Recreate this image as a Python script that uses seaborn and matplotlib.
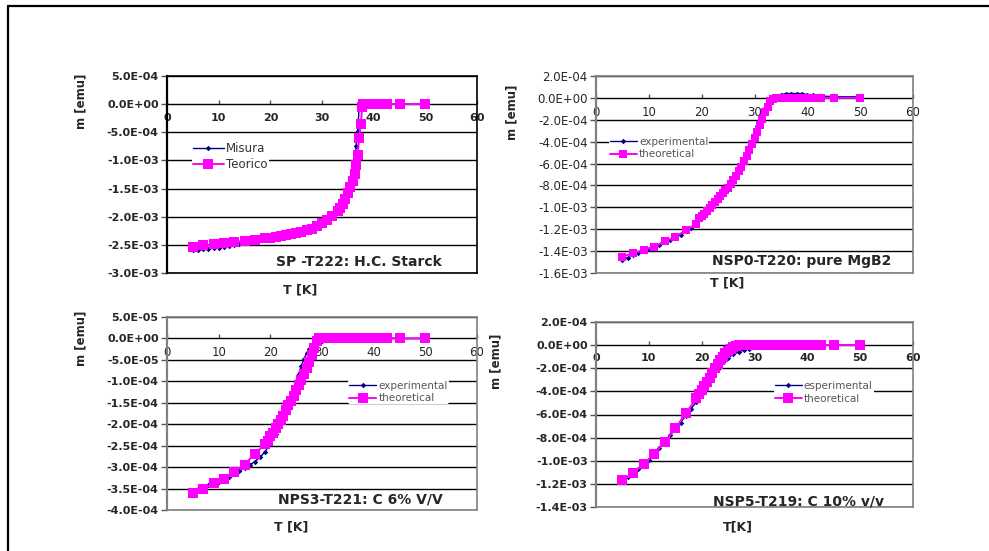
import numpy as np
import matplotlib
matplotlib.use("Agg")
import matplotlib.pyplot as plt
from matplotlib.lines import Line2D
import seaborn as sns

sns.set_style("white")
plt.rcParams["font.family"] = ["DejaVu Sans"]

NAVY = "#000080"
MAGENTA = "#FF00FF"

# ---------------- SP-T222: H.C. Starck (m in 1e-3 emu) ----------------
t_sp_exp = [5, 6, 7, 8, 9, 10, 11, 12, 13, 14, 15, 16, 17, 18, 19, 20, 21, 22, 23, 24,
            25, 26, 27, 28, 29, 30, 31, 32, 33, 34, 35, 35.5, 36, 36.3, 36.6, 36.9,
            37.2, 37.5, 38, 39, 40, 41, 42, 45, 50]
m_sp_exp = [-2.60, -2.59, -2.58, -2.57, -2.56, -2.55, -2.53, -2.52, -2.50, -2.49, -2.47,
            -2.46, -2.44, -2.42, -2.40, -2.38, -2.37, -2.35, -2.33, -2.31, -2.29, -2.27,
            -2.24, -2.21, -2.17, -2.12, -2.06, -1.98, -1.88, -1.74, -1.52, -1.36, -1.18,
            -1.02, -0.75, -0.48, -0.05, 0.0, 0.0, 0.0, 0.0, 0.0, 0.0, 0.0, 0.0]
t_sp_th = [5, 7, 9, 11, 13, 15, 17, 19, 20, 21, 22, 23, 24, 25, 26, 27, 28, 29, 30, 31,
           32, 33, 33.5, 34, 34.5, 35, 35.5, 36, 36.3, 36.6, 36.9, 37.2, 37.5, 37.8, 38,
           38.5, 39, 39.5, 40, 40.5, 41, 41.5, 42, 42.5, 45, 50]
m_sp_th = [-2.53, -2.51, -2.49, -2.47, -2.45, -2.43, -2.41, -2.38, -2.37, -2.36, -2.34,
           -2.33, -2.31, -2.29, -2.27, -2.24, -2.21, -2.17, -2.12, -2.06, -1.99, -1.90,
           -1.84, -1.77, -1.68, -1.58, -1.47, -1.36, -1.24, -1.08, -0.90, -0.60, -0.35,
           -0.05, 0.0, 0.0, 0.0, 0.0, 0.0, 0.0, 0.0, 0.0, 0.0, 0.0, 0.0, 0.0]

# ---------------- NSP0-T220: pure MgB2 (m in 1e-3 emu) ----------------
t_p0_exp = [5, 6, 7, 8, 9, 10, 11, 12, 13, 14, 15, 16, 17, 18, 19, 20, 21, 22, 23, 24,
            25, 26, 27, 28, 29, 30, 30.5, 31, 31.5, 32, 32.5, 33, 33.5, 34, 35, 36, 37,
            38, 39, 40, 41, 42, 45, 50]
m_p0_exp = [-1.48, -1.46, -1.44, -1.42, -1.40, -1.38, -1.36, -1.34, -1.32, -1.30, -1.28,
            -1.25, -1.22, -1.19, -1.15, -1.10, -1.05, -0.99, -0.93, -0.87, -0.80, -0.73,
            -0.64, -0.55, -0.44, -0.32, -0.26, -0.20, -0.14, -0.09, -0.05, -0.02, 0.0,
            0.01, 0.03, 0.04, 0.04, 0.04, 0.04, 0.03, 0.03, 0.02, 0.01, 0.01]
t_p0_th = [5, 7, 9, 11, 13, 15, 17, 19, 19.5, 20, 20.5, 21, 21.5, 22, 22.5, 23, 23.5, 24,
           24.5, 25, 25.5, 26, 26.5, 27, 27.5, 28, 28.5, 29, 29.5, 30, 30.5, 31, 31.5, 32,
           32.5, 33, 33.5, 34, 35, 36, 37, 38, 39, 40, 41, 42, 42.5, 45, 50]
m_p0_th = [-1.45, -1.42, -1.39, -1.36, -1.31, -1.27, -1.21, -1.15, -1.10, -1.08, -1.06,
           -1.03, -1.01, -0.98, -0.95, -0.92, -0.90, -0.87, -0.84, -0.82, -0.79, -0.75,
           -0.71, -0.67, -0.63, -0.58, -0.53, -0.48, -0.42, -0.37, -0.31, -0.25, -0.19,
           -0.13, -0.08, -0.03, -0.01, 0.0, 0.0, 0.0, 0.0, 0.0, 0.0, 0.0, 0.0, 0.0, 0.0,
           0.0, 0.0]

# ---------------- NPS3-T221: C 6% V/V (m in 1e-4 emu) ----------------
t_p3_exp = [5, 6, 7, 8, 9, 10, 11, 12, 13, 14, 15, 16, 17, 18, 19, 20, 21, 22, 23, 24,
            25, 25.5, 26, 26.5, 27, 27.5, 28, 28.5, 29, 29.5, 30, 31, 32, 33, 34, 35, 36,
            37, 38, 39, 40, 41, 42, 45, 50]
m_p3_exp = [-3.53, -3.50, -3.46, -3.42, -3.38, -3.34, -3.29, -3.24, -3.17, -3.10, -3.02,
            -2.95, -2.87, -2.77, -2.64, -2.45, -2.23, -1.97, -1.68, -1.35, -1.00, -0.82,
            -0.64, -0.48, -0.35, -0.25, -0.18, -0.12, -0.09, -0.07, -0.05, -0.03, -0.01,
            0.02, 0.05, 0.08, 0.07, 0.05, 0.04, 0.03, 0.02, 0.01, 0.01, 0.0, 0.0]
t_p3_th = [5, 7, 9, 11, 13, 15, 17, 19, 19.5, 20, 20.5, 21, 21.5, 22, 22.5, 23, 23.5, 24,
           24.5, 25, 25.5, 26, 26.5, 27, 27.5, 28, 28.5, 29, 29.5, 30, 31, 32, 33, 34, 35,
           36, 37, 38, 39, 40, 41, 42, 42.5, 45, 50]
m_p3_th = [-3.60, -3.50, -3.38, -3.27, -3.11, -2.94, -2.69, -2.46, -2.38, -2.28, -2.20,
           -2.08, -2.00, -1.90, -1.80, -1.68, -1.56, -1.45, -1.34, -1.20, -1.08, -0.96,
           -0.82, -0.68, -0.54, -0.38, -0.22, -0.07, 0.0, 0.0, 0.0, 0.0, 0.0, 0.0, 0.0,
           0.0, 0.0, 0.0, 0.0, 0.0, 0.0, 0.0, 0.0, 0.0, 0.0]

# ---------------- NSP5-T219: C 10% v/v (m in 1e-3 emu) ----------------
t_p5_exp = [5, 6, 7, 8, 9, 10, 11, 12, 13, 14, 15, 16, 17, 18, 19, 20, 21, 22, 23, 24,
            25, 26, 27, 28, 29, 30, 31, 32, 33, 34, 35, 36, 37, 38, 39, 40, 41, 42, 45, 50]
m_p5_exp = [-1.17, -1.14, -1.11, -1.07, -1.03, -0.99, -0.94, -0.89, -0.84, -0.78, -0.73,
            -0.67, -0.61, -0.55, -0.49, -0.42, -0.35, -0.28, -0.21, -0.15, -0.11, -0.08,
            -0.06, -0.04, -0.03, -0.02, -0.01, -0.005, 0.0, 0.0, 0.0, 0.0, 0.0, 0.0, 0.0,
            0.0, 0.0, 0.0, 0.0, 0.0]
t_p5_th = [5, 7, 9, 11, 13, 15, 17, 19, 19.5, 20, 20.5, 21, 21.5, 22, 22.5, 23, 23.5, 24,
           24.5, 25, 25.5, 26, 26.5, 27, 27.5, 28, 29, 30, 31, 32, 33, 34, 35, 36, 37, 38,
           39, 40, 41, 42, 42.5, 45, 50]
m_p5_th = [-1.17, -1.11, -1.03, -0.94, -0.84, -0.72, -0.59, -0.46, -0.42, -0.39, -0.35,
           -0.32, -0.28, -0.24, -0.20, -0.16, -0.13, -0.10, -0.07, -0.05, -0.03, -0.02,
           -0.01, 0.0, 0.0, 0.0, 0.0, 0.0, 0.0, 0.0, 0.0, 0.0, 0.0, 0.0, 0.0, 0.0, 0.0,
           0.0, 0.0, 0.0, 0.0, 0.0, 0.0]

titles = ["SP -T222: H.C. Starck", "NSP0-T220: pure MgB2",
          "NPS3-T221: C 6% V/V", "NSP5-T219: C 10% v/v"]
legend_labels = [("Misura", "Teorico"), ("experimental", "theoretical"),
                 ("experimental", "theoretical"), ("esperimental", "theoretical")]
x_ticks = [0, 10, 20, 30, 40, 50, 60]

W, H = 989, 551
fig = plt.figure(figsize=(W / 100, H / 100), dpi=100)


def px_axes(left, top, right, bottom):
    return fig.add_axes([left / W, 1 - bottom / H, (right - left) / W, (bottom - top) / H])


panels = [
    dict(box=(167, 76, 477, 273), exp=(t_sp_exp, m_sp_exp), th=(t_sp_th, m_sp_th), scale=1e-3,
         ylim=(-3.0e-3, 5.0e-4), step=5e-4, frame="black", ybold=True, xbold=True,
         ytick_fs=8, xtick_fs=8, xpad=6.5, sq=7,
         leg=(0.08, 0.59), leg_fs=8.5, leg_col="#333333",
         note=(0.352, 0.056), note_w="bold",
         xlabel=("T [K]", 300, 290), ylabel=(81, 101)),
    dict(box=(596, 76, 913, 273), exp=(t_p0_exp, m_p0_exp), th=(t_p0_th, m_p0_th), scale=1e-3,
         ylim=(-1.6e-3, 2.0e-4), step=2e-4, frame="#808080", ybold=False, xbold=False,
         ytick_fs=8.5, xtick_fs=8.5, xpad=5.5, sq=6,
         leg=(0.04, 0.635), leg_fs=7.5, leg_col="#555555",
         note=(0.366, 0.061), note_w="bold",
         xlabel=("T [K]", 727, 283), ylabel=(512, 112)),
    dict(box=(167, 317, 477, 510), exp=(t_p3_exp, m_p3_exp), th=(t_p3_th, m_p3_th), scale=1e-4,
         ylim=(-4.0e-4, 5.0e-5), step=5e-5, frame="#808080", ybold=True, xbold=False,
         ytick_fs=8, xtick_fs=8.5, xpad=5.5, sq=6.5,
         leg=(0.585, 0.611), leg_fs=7.5, leg_col="#555555",
         note=(0.358, 0.052), note_w="bold",
         xlabel=("T [K]", 291, 527), ylabel=(81, 338)),
    dict(box=(596, 322, 913, 507), exp=(t_p5_exp, m_p5_exp), th=(t_p5_th, m_p5_th), scale=1e-3,
         ylim=(-1.4e-3, 2.0e-4), step=2e-4, frame="#808080", ybold=True, xbold=True,
         ytick_fs=8, xtick_fs=8, xpad=5.5, sq=7,
         leg=(0.56, 0.62), leg_fs=7.5, leg_col="#555555",
         note=(0.369, 0.03), note_w="bold",
         xlabel=("T[K]", 738, 527), ylabel=(496, 361)),
]

for i, p in enumerate(panels):
    ax = px_axes(*p["box"])
    ymin, ymax = p["ylim"]
    t_e, m_e = p["exp"]
    t_t, m_t = p["th"]
    m_e = np.asarray(m_e) * p["scale"]
    m_t = np.asarray(m_t) * p["scale"]
    lab_e, lab_t = legend_labels[i]

    sns.lineplot(x=t_e, y=m_e, ax=ax, sort=False, color=NAVY, lw=1.0,
                 marker="D", markersize=2.8, markeredgewidth=0, label=lab_e, zorder=3)
    sns.lineplot(x=t_t, y=m_t, ax=ax, sort=False, color=MAGENTA, lw=1.4,
                 marker="s", markersize=p["sq"], markeredgewidth=0, label=lab_t, zorder=4)

    ax.set_xlim(0, 60)
    ax.set_ylim(ymin, ymax)
    yt = np.round(np.arange(ymin, ymax + p["step"] / 2, p["step"]), 12)
    ax.set_yticks(yt)
    ax.set_yticklabels([f"{v:.1E}" for v in yt],
                       fontweight="bold" if p["ybold"] else "normal")
    ax.tick_params(axis="y", direction="out", length=4, width=1, color="#555555",
                   left=True, labelsize=p["ytick_fs"], pad=2)
    ax.tick_params(axis="x", bottom=False, labelbottom=False)
    ax.set_xlabel("")
    ax.set_ylabel("")
    ax.set_axisbelow(True)
    ax.grid(axis="y", color="black", lw=1.0)
    ax.grid(axis="x", visible=False)
    for side, sp in ax.spines.items():
        sp.set_visible(True)
        sp.set_color(p["frame"])
        sp.set_linewidth(1.6 if side == "left" else 1.2)

    # category axis crossing at m = 0
    sec = ax.secondary_xaxis((0 - ymin) / (ymax - ymin))
    sec.set_alignment("bottom")
    sec.spines["bottom"].set_visible(False)
    sec.set_xticks(x_ticks)
    sec.set_xticklabels([str(v) for v in x_ticks],
                        fontweight="bold" if p["xbold"] else "normal")
    sec.tick_params(direction="in", length=3, width=1, color="#555555",
                    labelsize=p["xtick_fs"], pad=p["xpad"])

    leg = ax.legend(loc="center left", bbox_to_anchor=p["leg"], frameon=True,
                    facecolor="white", edgecolor="none", framealpha=1.0,
                    fontsize=p["leg_fs"], handlelength=2.6, handletextpad=0.2,
                    borderpad=0.1, labelspacing=0.25, borderaxespad=0)
    for txt in leg.get_texts():
        txt.set_color(p["leg_col"])

    ax.text(p["note"][0], p["note"][1], titles[i], transform=ax.transAxes,
            ha="left", va="center", fontsize=10, fontweight=p["note_w"], zorder=6)

    xl, xx, xy = p["xlabel"]
    fig.text(xx / W, 1 - xy / H, xl, ha="center", va="center",
             fontsize=9, fontweight="bold")
    fig.text(p["ylabel"][0] / W, 1 - p["ylabel"][1] / H, "m [emu]", ha="center",
             va="center", rotation=90, fontsize=8.5, fontweight="bold")

# outer frame (top and left edges)
fig.add_artist(Line2D([8 / W, 1.0], [1 - 6 / H, 1 - 6 / H], transform=fig.transFigure,
                      color="black", lw=1.6))
fig.add_artist(Line2D([8 / W, 8 / W], [0.0, 1 - 6 / H], transform=fig.transFigure,
                      color="black", lw=1.6))

fig.savefig("out.png", dpi=100, facecolor="white")
